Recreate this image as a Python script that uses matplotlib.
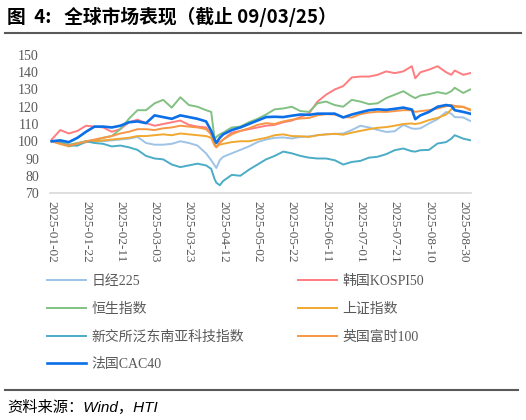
import numpy as np
import pandas as pd
import matplotlib
matplotlib.use("Agg")
import matplotlib.pyplot as plt
import matplotlib.dates as mdates
from matplotlib.lines import Line2D

dates = ["2025-01-02", "2025-01-07", "2025-01-12", "2025-01-17", "2025-01-22", "2025-01-27",
         "2025-02-01", "2025-02-06", "2025-02-11", "2025-02-16", "2025-02-21", "2025-02-26",
         "2025-03-03", "2025-03-08", "2025-03-13", "2025-03-18", "2025-03-23", "2025-03-28",
         "2025-04-02", "2025-04-05", "2025-04-07", "2025-04-08", "2025-04-10", "2025-04-12",
         "2025-04-17", "2025-04-22", "2025-04-27", "2025-05-02", "2025-05-07", "2025-05-12",
         "2025-05-17", "2025-05-22", "2025-05-27", "2025-06-01", "2025-06-06", "2025-06-11",
         "2025-06-16", "2025-06-21", "2025-06-26", "2025-07-01", "2025-07-06", "2025-07-11",
         "2025-07-16", "2025-07-21", "2025-07-26", "2025-07-31", "2025-08-02", "2025-08-05",
         "2025-08-10", "2025-08-15", "2025-08-20", "2025-08-23", "2025-08-25", "2025-08-30",
         "2025-09-03"]

nikkei = [100, 99.5, 98, 97.5, 99.5, 100, 100, 100.5, 101, 101.5, 102.5, 99,
          98, 98, 98.5, 100, 99, 97.5, 93, 89, 86, 84.5, 89, 91,
          93, 95, 97, 99.5, 101, 102, 102.2, 101.6, 102.5, 102.8, 103.5, 104,
          104.3, 104.5, 106.5, 109, 108, 106.6, 105.4, 105.8, 109.5, 107.4, 107.2, 107.5,
          110.3, 112.8, 117, 116, 114, 113.8, 111.8]
kospi = [101, 106.5, 104.5, 106, 109, 108.5, 108, 105.5, 107, 111, 112.5, 110.5,
         109, 110, 111, 112, 109.5, 108.5, 108, 104, 98, 96.5, 99, 101,
         105, 106, 107, 108, 109, 109.5, 111, 112, 114, 116, 123, 127,
         130, 132, 137, 137.5, 137.5, 138.5, 140.5, 139.5, 140.5, 143.5, 136.5, 140,
         141.5, 143.5, 140, 138.5, 141, 138.5, 139.5]
hsi = [100, 99.5, 98, 99, 100, 100.5, 102, 103, 107, 113, 118, 118,
       122, 124, 119.5, 125.5, 121, 120, 118, 117, 101, 102.5, 104, 105,
       108, 108.5, 111, 113, 115.5, 118.5, 119, 120, 117.5, 117, 122, 123,
       121, 120, 124, 123, 121.5, 122, 125, 127, 129, 126, 125, 126.5,
       127.3, 128.5, 127.5, 129, 131, 128, 130]
sse = [100, 98.5, 97, 98.5, 99.5, 100, 100.5, 101, 101.5, 102, 103, 103,
       103.5, 104, 103.5, 104.5, 104, 103.5, 103, 102, 97.5, 97, 98, 98.5,
       99.5, 100, 100, 101, 102, 103.5, 104, 103, 102.9, 102.5, 103.5, 104,
       104.3, 103.8, 105, 106, 107, 107.8, 108.2, 109, 110, 110.3, 110, 110.5,
       112.3, 113.5, 115.5, 118.5, 120, 119.8, 118.5]
sgx_tech = [100, 99, 97.5, 97.5, 100, 99, 98.5, 97, 97.5, 96.5, 95, 91.5,
            90, 89.5, 86.5, 85, 86, 87, 86, 84, 78, 76, 74.5, 77,
            80.5, 80, 83.5, 86.5, 89.5, 91.5, 94, 93, 91.5, 90.5, 90, 90,
            89, 86.5, 88, 88.6, 90.5, 91, 92.5, 94.8, 95.8, 94.2, 94, 94.8,
            95, 98.7, 99.5, 101.5, 103.5, 101.5, 100.6]
ftse = [100, 98.5, 97.5, 98.5, 100, 101, 102, 103, 104.5, 105.5, 107, 107,
        106.5, 107.5, 108, 109, 108.5, 108, 107, 104, 98, 96.5, 99.5, 101,
        104, 106, 107.5, 109.5, 110.5, 110, 111.5, 112.5, 113.2, 113.5, 115, 115.7,
        115.5, 114, 113.8, 115.7, 116.6, 117.1, 117, 117.5, 118, 118, 117, 117.5,
        118, 119, 120.3, 121, 120.5, 120, 118]
cac = [100, 100.5, 99.5, 102, 105.5, 108.5, 108.5, 108, 109, 111, 111.5, 110.5,
       115, 114, 113, 115, 114, 113, 111.5, 106, 101, 99, 102, 104,
       106.5, 108, 110, 112, 114, 114.2, 114, 114.8, 115.5, 115.3, 116, 116,
       116, 113.8, 115.5, 116.8, 118, 118.5, 118.2, 118.8, 119.5, 118.4, 112.8, 115,
       117, 120, 121, 120.5, 118, 117, 116]

labels = ["日经225", "韩国KOSPI50", "恒生指数", "上证指数", "新交所泛东南亚科技指数", "英国富时100", "法国CAC40"]
colors = ["#9dc3e6", "#ff7c80", "#82c182", "#f0a830", "#4bacc6", "#f79646", "#0b6fe8"]
series = [nikkei, kospi, hsi, sse, sgx_tech, ftse, cac]

x = pd.to_datetime(dates)

fig = plt.figure(figsize=(5.26, 4.2), dpi=100)
W, H = 526, 420
ax = fig.add_axes([50 / W, 1 - 193 / H, 421 / W, 138 / H])

lines = []
for vals, c, lab in zip(series, colors, labels):
    lw = 1.9 if lab == "法国CAC40" else 1.4
    ln, = ax.plot(x, vals, color=c, lw=lw, label=lab)
    lines.append(ln)

start = pd.Timestamp("2025-01-02")
ax.set_xlim(start - pd.Timedelta(days=1), pd.Timestamp("2025-09-03") + pd.Timedelta(days=0.5))
ax.set_ylim(70, 150)
ax.set_yticks(range(70, 151, 10))
ticks = pd.date_range(start, "2025-08-30", freq="20D")
ax.set_xticks(ticks)
ax.xaxis.set_major_formatter(mdates.DateFormatter("%Y-%m-%d"))

for s in ["top", "right", "left"]:
    ax.spines[s].set_visible(False)
ax.spines["bottom"].set_color("#d9d9d9")
ax.spines["bottom"].set_linewidth(1.2)
ax.tick_params(axis="both", length=0, colors="#595959")
ax.tick_params(axis="y", pad=8)
ax.tick_params(axis="x", pad=6)
for t in ax.get_yticklabels():
    t.set_fontfamily("Liberation Serif")
    t.set_fontsize(10)
for t in ax.get_xticklabels():
    t.set_fontfamily("Liberation Serif")
    t.set_fontsize(9.5)
    t.set_rotation(270)
    t.set_ha("center")
    t.set_va("top")

leg_font = {"family": ["Liberation Serif", "Noto Sans CJK SC"], "size": 10, "weight": "light"}
col1 = [lines[0], lines[2], lines[4], lines[6]]
col2 = [lines[1], lines[3], lines[5]]
leg_kw = dict(loc="upper left", bbox_transform=fig.transFigure, frameon=False, prop=leg_font,
              handlelength=2.8, handletextpad=0.4, labelspacing=1.05, borderpad=0,
              borderaxespad=0, labelcolor="#595959")
leg1 = ax.legend(handles=col1, bbox_to_anchor=(47 / W, 1 - 275 / H), **leg_kw)
ax.add_artist(leg1)
ax.legend(handles=col2, bbox_to_anchor=(298 / W, 1 - 275 / H), **leg_kw)

fig.text(7 / W, 1 - 17 / H, "图  4:   全球市场表现（截止 09/03/25）", fontsize=13.5,
         fontweight="bold", family=["Noto Sans CJK SC", "DejaVu Sans"], va="center", ha="left")
fig.add_artist(Line2D([5 / W, 521 / W], [1 - 33 / H, 1 - 33 / H], color="#595959", lw=1.5))
fig.add_artist(Line2D([5 / W, 518 / W], [1 - 390 / H, 1 - 390 / H], color="#595959", lw=1.5))
fig.text(7 / W, 1 - 407 / H, "资料来源：Wind，HTI", fontsize=11, style="italic",
         family=["Liberation Sans", "Noto Sans CJK SC"], va="center", ha="left")

fig.savefig("out.png", dpi=100)
